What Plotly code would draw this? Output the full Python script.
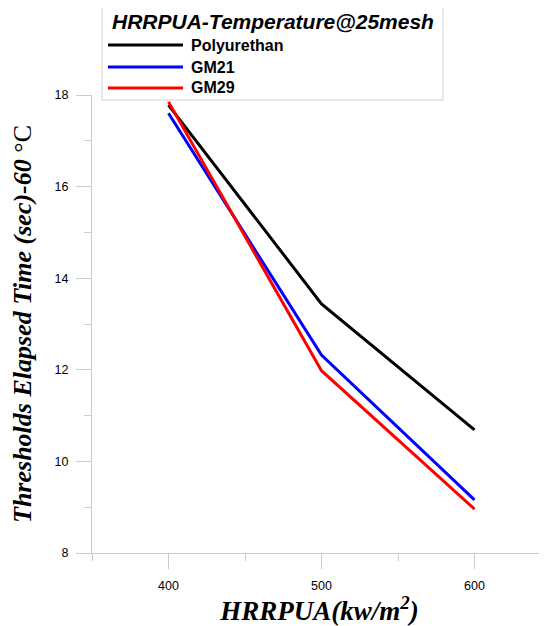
import plotly.graph_objects as go

hrrpua = [400, 500, 600]
polyurethan = [17.78, 13.44, 10.69]
gm21 = [17.6, 12.32, 9.16]
gm29 = [17.85, 11.98, 8.96]

series_names = ["Polyurethan", "GM21", "GM29"]
series_values = [polyurethan, gm21, gm29]
series_colors = ["#000000", "#0000ff", "#ff0000"]

legend_title = "HRRPUA-Temperature@25mesh"
x_title = "<b><i>HRRPUA(kw/m<sup>2</sup>)</i></b>"
y_title = "<b><i>Thresholds Elapsed Time (sec)-60 </i></b>°C"

# the page body adds an 8px offset; figure coordinates = page coordinates - 8
OFF = 8
W, H = 547 - OFF, 626 - OFF
ML, MR, MT, MB = 92 - OFF, 0, 95 - OFF, 626 - 553
PW, PH = W - ML - MR, H - MT - MB


def px(x):
    return (x - OFF - ML) / PW


def py(y):
    return (H - MB - (y - OFF)) / PH


fig = go.Figure()
for name, vals, col in zip(series_names, series_values, series_colors):
    fig.add_trace(go.Scatter(x=hrrpua, y=vals, mode="lines", name=name,
                             line=dict(color=col, width=3), showlegend=False))

axis_grey = "#cccccc"
fig.update_layout(
    width=W, height=H,
    margin=dict(l=ML, r=MR, t=MT, b=MB, autoexpand=False),
    paper_bgcolor="white", plot_bgcolor="white",
    font=dict(family="Liberation Sans", color="black", size=12),
    xaxis=dict(range=[350, 350 + PW / 1.53], tick0=400, dtick=100, ticks="outside", ticklen=15,
               tickcolor=axis_grey, showline=True, linecolor=axis_grey, linewidth=1,
               showgrid=False, zeroline=False, ticklabelstandoff=6,
               minor=dict(dtick=50, ticks="outside", ticklen=7, tickcolor=axis_grey),
               tickfont=dict(size=12.5, family="Liberation Sans"),
               title=dict(text=x_title, font=dict(family="Liberation Serif", size=27), standoff=6)),
    yaxis=dict(range=[8, 18], tick0=8, dtick=2, ticks="outside", ticklen=15,
               tickcolor=axis_grey, showline=True, linecolor=axis_grey, linewidth=1,
               showgrid=False, zeroline=False, ticklabelstandoff=5,
               minor=dict(dtick=1, ticks="outside", ticklen=7, tickcolor=axis_grey),
               tickfont=dict(size=12.5, family="Liberation Sans"),
               title=dict(text=y_title, font=dict(family="Liberation Serif", size=26), standoff=27)),
)

# custom legend box (long line samples like the reference)
fig.add_shape(type="rect", xref="paper", yref="paper",
              x0=px(102), x1=px(443), y0=py(100), y1=py(3),
              line=dict(color="#d0d0d0", width=1), fillcolor="white", layer="above")
fig.add_annotation(xref="paper", yref="paper", x=px(273), y=py(22),
                   text="<b><i>" + legend_title + "</i></b>", showarrow=False,
                   xanchor="center", yanchor="middle",
                   font=dict(family="Liberation Sans", size=21, color="black"))
rows = [45, 67, 88]
for name, col, ry in zip(series_names, series_colors, rows):
    fig.add_shape(type="line", xref="paper", yref="paper",
                  x0=px(108), x1=px(183), y0=py(ry), y1=py(ry),
                  line=dict(color=col, width=3), layer="above")
    fig.add_annotation(xref="paper", yref="paper", x=px(189), y=py(ry),
                       text="<b>" + name + "</b>", showarrow=False,
                       xanchor="left", yanchor="middle",
                       font=dict(family="Liberation Sans", size=16, color="black"))

fig.write_html("out.html")
